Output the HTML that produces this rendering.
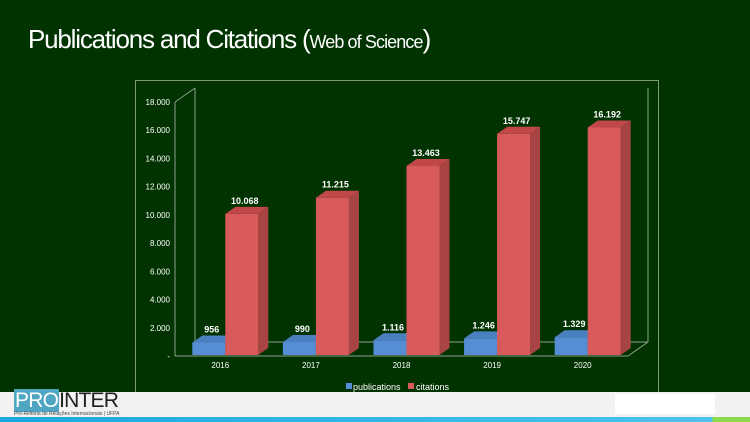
<!DOCTYPE html>
<html><head><meta charset="utf-8"><style>
body{margin:0;width:750px;height:422px;overflow:hidden;background:#003300;font-family:"Liberation Sans",sans-serif;position:relative}
#title{position:absolute;left:28px;top:24px;color:#fff;font-size:26px;letter-spacing:-1.2px;white-space:nowrap}
#title small{font-size:18px;letter-spacing:-0.9px}
#footer{position:absolute;left:0;top:392px;width:750px;height:25px;background:#f2f2f2}
#stripe{position:absolute;left:0;top:417px;width:750px;height:5px;background:linear-gradient(90deg,#1aa9dd,#4cc3ee 95%,#8cd94a 95%)}
</style></head><body>
<div id="title">Publications and Citations (<small>Web of Science</small>)</div>
<svg id="chart" width="750" height="422" style="position:absolute;left:0;top:0"></svg>
<div id="footer">
<div style="position:absolute;left:14px;top:-1px;font-size:21px;line-height:19px;letter-spacing:-0.8px"><span style="background:#4fa6c3;color:#fff;padding:0 1px">PRO</span><span style="color:#222">INTER</span></div>
<div style="position:absolute;left:14px;top:19px;font-size:5px;color:#444">Pró-Reitoria de Relações Internacionais | UFPA</div>
<div style="position:absolute;left:615px;top:2px;width:100px;height:20px;background:#fff"></div>
</div>
<div id="stripe"></div>
<script>
const categories=["2016","2017","2018","2019","2020"];
const publications=[956,990,1116,1246,1329];
const citations=[10068,11215,13463,15747,16192];
const ticks=[0,2000,4000,6000,8000,10000,12000,14000,16000,18000];
const tickLabels=["-","2.000","4.000","6.000","8.000","10.000","12.000","14.000","16.000","18.000"];
const fmt=v=>v.toLocaleString("de-DE");
const NS="http://www.w3.org/2000/svg",svg=document.getElementById("chart");
function el(t,a,txt){const e=document.createElementNS(NS,t);for(const k in a)e.setAttribute(k,a[k]);if(txt!=null)e.textContent=txt;svg.appendChild(e);return e;}
const y0=356,yTop=102,vmax=18000,x0=175,x1=628,dx=20,dy=14,bdx=10,bdy=7;
const yS=v=>y0-(v/vmax)*(y0-yTop);
const xC=i=>x0+(x1-x0)*(i+0.5)/categories.length;
let r=el("rect",{x:135.5,y:80.5,width:523,height:314,fill:"none",stroke:"#7a9a7a","stroke-width":1});

const ax="#8aa08a";
el("line",{x1:x0,y1:y0,x2:x0,y2:yTop,stroke:ax});
el("line",{x1:x0+dx,y1:y0-dy,x2:x0+dx,y2:yTop-dy,stroke:ax});
el("line",{x1:x0,y1:yTop,x2:x0+dx,y2:yTop-dy,stroke:ax});
el("line",{x1:x0,y1:y0,x2:x1,y2:y0,stroke:ax});
el("line",{x1:x0+dx,y1:y0-dy,x2:x1+dx,y2:y0-dy,stroke:ax});
el("line",{x1:x1,y1:y0,x2:x1+dx,y2:y0-dy,stroke:ax});
el("line",{x1:x1+dx,y1:y0-dy,x2:x1+dx,y2:yTop-dy,stroke:ax});
ticks.forEach((t,i)=>{const e=el("text",{x:x0-5,y:yS(t)+3,fill:"#fff","font-size":8,"text-anchor":"end"},tickLabels[i]);
});
function bar(x,w,v,front,top,side,label,name){
 const yt=yS(v),yb=y0-1;
 const g=document.createElementNS(NS,"g");svg.appendChild(g);
 
 const add=(t,a)=>{const e=document.createElementNS(NS,t);for(const k in a)e.setAttribute(k,a[k]);g.appendChild(e);};
 add("polygon",{points:`${x+w},${yb} ${x+w+bdx},${yb-bdy} ${x+w+bdx},${yt-bdy} ${x+w},${yt}`,fill:side});
 add("polygon",{points:`${x},${yt} ${x+bdx},${yt-bdy} ${x+w+bdx},${yt-bdy} ${x+w},${yt}`,fill:top});
 add("rect",{x:x,y:yt,width:w,height:yb-yt,fill:front});
 const l=el("text",{x:x+w/2+3,y:yt-bdy-3,fill:"#fff","font-size":9,"font-weight":"bold","text-anchor":"middle"},label);
 
}
categories.forEach((c,i)=>{
 const cx=xC(i);
 bar(cx-28,33,publications[i],"#558ed5","#4a7fc0","#3f6fa8",fmt(publications[i]),"bar-publications-"+c);
 bar(cx+5,33,citations[i],"#d85a5a","#c04848","#a84444",fmt(citations[i]),"bar-citations-"+c);
 const t=el("text",{x:cx,y:368,fill:"#fff","font-size":8,"text-anchor":"middle"},c);
 
});
let lg=el("rect",{x:346,y:383,width:6,height:6,fill:"#558ed5"});
let lt=el("text",{x:353,y:390,fill:"#fff","font-size":9},"publications");
lg=el("rect",{x:408,y:383,width:6,height:6,fill:"#d85a5a"});
lt=el("text",{x:416,y:390,fill:"#fff","font-size":9},"citations");
</script>
</body></html>
